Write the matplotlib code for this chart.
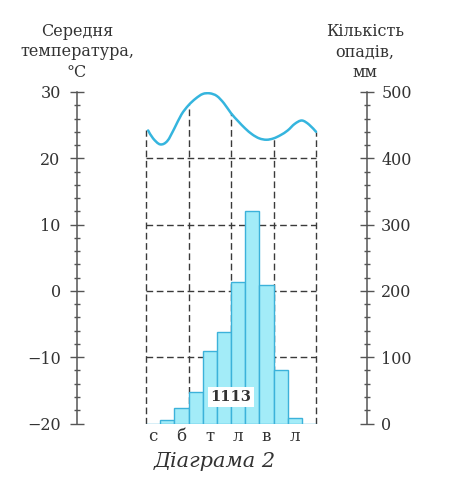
import numpy as np
from matplotlib import pyplot as plt
from matplotlib.path import Path
from matplotlib.patches import PathPatch
from matplotlib.ticker import MultipleLocator

# precipitation by month, mm (Jan..Dec)
precip = [0, 5, 24, 47, 110, 138, 214, 320, 209, 80, 8, 0]
total_label = "1113"

# temperature curve: position in months, degrees C
temp_x = [0.15, 0.5, 1.0, 1.5, 2.0, 2.5, 3.0, 3.5, 4.0, 4.5, 5.0, 5.5, 6.0,
          6.5, 7.0, 7.5, 8.0, 8.5, 9.0, 9.5, 10.0, 10.5, 11.0, 11.5, 12.0]
temp_vals = [24.2, 23.0, 22.1, 22.6, 24.5, 26.6, 28.0, 29.0, 29.7, 29.8, 29.4,
             28.3, 26.8, 25.6, 24.5, 23.6, 23.0, 22.8, 23.0, 23.5, 24.2, 25.2,
             25.7, 25.1, 24.0]

month_ticks = [0.5, 2.5, 4.5, 6.5, 8.5, 10.5]
month_labels = ["с", "б", "т", "л", "в", "л"]

plt.rcParams['font.family'] = ['DejaVu Serif']
axis_col = '#555555'
dash_col = '#3a3a3a'
bar_face = '#a3ecf8'
bar_edge = '#3cb2da'
line_col = '#35b5de'


def smooth_path(xs, ys):
    # Catmull-Rom through the points, drawn as cubic Bezier segments
    pts = np.column_stack([xs, ys])
    verts = [pts[0]]
    codes = [Path.MOVETO]
    for i in range(len(pts) - 1):
        p0 = pts[i - 1] if i > 0 else pts[i]
        p1, p2 = pts[i], pts[i + 1]
        p3 = pts[i + 2] if i + 2 < len(pts) else pts[i + 1]
        verts += [p1 + (p2 - p0) / 6, p2 - (p3 - p1) / 6, p2]
        codes += [Path.CURVE4] * 3
    return Path(verts, codes)


W, H = 471, 490
fig = plt.figure(figsize=(W / 100, H / 100), dpi=100)
ax = fig.add_axes([77 / W, 1 - 423.5 / H, (367 - 77) / W, (423.5 - 92) / H])
ax2 = ax.twinx()

px_per_month = 14.17
ax.set_xlim(-69 / px_per_month, 221 / px_per_month)
ax.set_ylim(-20, 30)
ax2.set_ylim(0, 500)

for a in (ax, ax2):
    a.spines['top'].set_visible(False)
    a.spines['bottom'].set_visible(False)
ax.spines['right'].set_visible(False)
ax2.spines['left'].set_visible(False)
ax.spines['left'].set_color(axis_col)
ax.spines['left'].set_linewidth(1.1)
ax2.spines['right'].set_color(axis_col)
ax2.spines['right'].set_linewidth(1.1)

ax.yaxis.set_major_locator(MultipleLocator(10))
ax.yaxis.set_minor_locator(MultipleLocator(2))
ax2.yaxis.set_major_locator(MultipleLocator(100))
ax2.yaxis.set_minor_locator(MultipleLocator(20))
ax.tick_params(axis='y', which='major', direction='inout', length=9.5, width=1,
               color=axis_col, labelcolor='#333333', labelsize=11.5, pad=7)
ax.tick_params(axis='y', which='minor', direction='inout', length=5, width=1,
               color=axis_col)
ax2.tick_params(axis='y', which='major', direction='inout', length=9.5, width=1,
                color=axis_col, labelcolor='#333333', labelsize=11.5, pad=5.5)
ax2.tick_params(axis='y', which='minor', direction='inout', length=5, width=1,
                color=axis_col)

ax.set_xticks(month_ticks)
ax.set_xticklabels(month_labels)
ax.tick_params(axis='x', length=0, labelsize=12, pad=3, labelcolor='#333333')
ax2.tick_params(axis='x', length=0, labelbottom=False)

# dashed grid: horizontal at 100..400 mm, vertical at season borders up to the curve
grid_temps = [-10, 0, 10, 20]
ax.hlines(grid_temps, 0, 12, colors=dash_col, linestyles=(0, (4.8, 2.6)),
          linewidth=1.0, zorder=1)
vx = [0, 3, 6, 9, 12]
vtop = np.interp(vx, temp_x, temp_vals)
ax.vlines(vx, -20, vtop, colors=dash_col, linestyles=(0, (4.8, 2.6)),
          linewidth=1.0, zorder=1)

ax.add_patch(PathPatch(smooth_path(temp_x, temp_vals), facecolor='none',
                       edgecolor=line_col, linewidth=1.8, zorder=3,
                       capstyle='round'))

months = np.arange(12) + 0.5
ax2.bar(months, precip, width=1.0, color=bar_face, edgecolor=bar_edge,
        linewidth=1.0, zorder=2)
ax2.text(6.0, 40, total_label, ha='center', va='center', fontsize=10.5,
         fontweight='bold', color='#333333', zorder=5,
         bbox=dict(facecolor='white', edgecolor='none', pad=2))

fig.text(77 / W, 1 - 52 / H, "Середня\nтемпература,\n°C", ha='center',
         va='center', fontsize=11.5, linespacing=1.3, color='#333333')
fig.text(365 / W, 1 - 52 / H, "Кількість\nопадів,\nмм", ha='center',
         va='center', fontsize=11.5, linespacing=1.3, color='#333333')
fig.text(215 / W, 1 - 461 / H, "Діаграма 2", ha='center', va='center',
         fontsize=15, style='italic', color='#333333')

fig.savefig('out.png', dpi=100)
